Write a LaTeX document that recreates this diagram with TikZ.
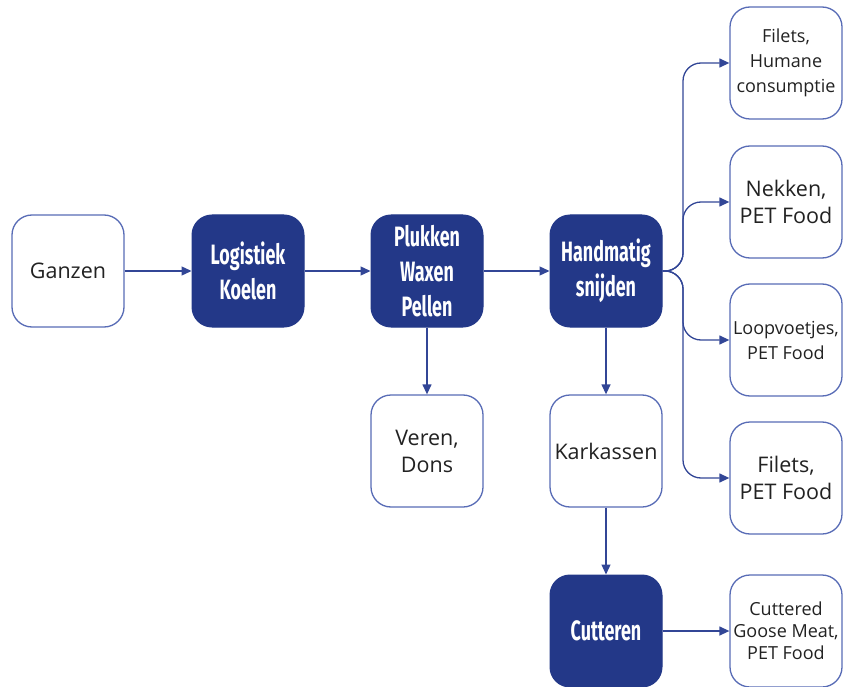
\documentclass[tikz,border=0pt]{standalone}
\usepackage{fontspec}
\setmainfont{Open Sans}
\newfontfamily\condbold{Fira Sans}[FakeStretch=0.64]
\usetikzlibrary{arrows.meta}

\definecolor{navy}{RGB}{35,56,136}
\definecolor{boxedge}{RGB}{88,108,182}
\definecolor{flowline}{RGB}{50,70,150}
\definecolor{textgray}{RGB}{34,34,34}

\tikzset{
  lightbox/.style={draw=boxedge, line width=1.3pt, rounded corners=20pt, fill=white,
    minimum width=112pt, minimum height=112pt, inner sep=0pt, align=center,
    text=textgray, font=\fontsize{21.5}{27}\selectfont},
  smalltext/.style={font=\fontsize{18}{25}\selectfont},
  tighttext/.style={font=\fontsize{18}{22}\selectfont},
  darkbox/.style={draw=navy, fill=navy, line width=1pt, rounded corners=20pt,
    minimum width=112pt, minimum height=112pt, inner sep=0pt, align=center,
    text=white, font=\condbold\bfseries\fontsize{28}{35}\selectfont},
  flow/.style={draw=flowline, line width=1.3pt, -{Triangle[length=10pt,width=9pt]}},
  branch/.style={flow, rounded corners=18pt}
}

\begin{document}
\begin{tikzpicture}[x=1pt, y=-1pt]
  \useasboundingbox (0,0) rectangle (843,687);

  % main chain
  \node[lightbox] (ganzen) at (68,271) {Ganzen};
  \node[darkbox]  (logi)   at (248,271) {Logistiek\\Koelen};
  \node[darkbox]  (pluk)   at (427,271) {Plukken\\Waxen\\Pellen};
  \node[darkbox]  (hand)   at (606,271) {Handmatig\\snijden};

  % by-products below
  \node[lightbox] (veren) at (427,451) {Veren,\\Dons};
  \node[lightbox] (kark)  at (606,451) {Karkassen};
  \node[darkbox]  (cut)   at (606,631) {Cutteren};
  \node[lightbox, tighttext] (cgm) at (786,631) {Cuttered\\Goose Meat,\\PET Food};

  % products on the right
  \node[lightbox, smalltext] (filh) at (786,63)  {Filets,\\Humane\\consumptie};
  \node[lightbox]            (nek)  at (786,202) {Nekken,\\PET Food};
  \node[lightbox, smalltext] (loop) at (786,340) {Loopvoetjes,\\PET Food};
  \node[lightbox]            (filp) at (786,478) {Filets,\\PET Food};

  % connectors
  \draw[flow] (ganzen) -- (logi);
  \draw[flow] (logi) -- (pluk);
  \draw[flow] (pluk) -- (hand);
  \draw[flow] (pluk) -- (veren);
  \draw[flow] (hand) -- (kark);
  \draw[flow] (kark) -- (cut);
  \draw[flow] (cut) -- (cgm);

  \coordinate (split) at (683,271);
  \draw[branch] (hand.east) -- (split) |- (filh.west);
  \draw[branch] (hand.east) -- (split) |- (nek.west);
  \draw[branch] (hand.east) -- (split) |- (loop.west);
  \draw[branch] (hand.east) -- (split) |- (filp.west);
\end{tikzpicture}
\end{document}
